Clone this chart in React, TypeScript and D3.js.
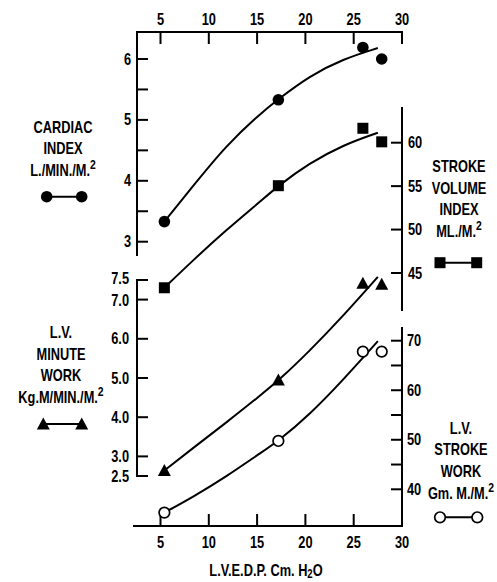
import React from "react";
import * as d3 from "d3";

// ---- data ----
const edpTicks = [5, 10, 15, 20, 25, 30];
const ciTicks = [3, 4, 5, 6];
const ciMinorTicks = [3.5, 4.5, 5.5];
const sviTicks = [45, 50, 55, 60];
const lvmwTicks = [2.5, 3, 4, 5, 6, 7, 7.5];
const lvmwTickLabels = ["2.5", "3.0", "4.0", "5.0", "6.0", "7.0", "7.5"];
const lvswTicks = [40, 50, 60, 70];
const lvswMinorTicks = [45, 55, 65];

const edp = [5.4, 17.2, 25.95, 27.9];
const cardiacIndex = [3.33, 5.33, 6.19, 6.0];
const strokeVolumeIndex = [43.3, 55.05, 61.66, 60.1];
const lvMinuteWork = [2.64, 4.95, 7.42, 7.39];
const lvStrokeWork = [35.3, 49.76, 67.8, 67.8];

// fitted curves
const fitEdp = [5.4, 8.4, 11.8, 15.3, 17.2, 20.4, 23.9, 27.5];
const ciFit = [3.33, 3.92, 4.58, 5.1, 5.34, 5.72, 6.0, 6.18];
const sviFit = [43.3, 46.5, 49.95, 53.2, 55.05, 57.63, 59.74, 61.15];
const lvmwFit = [2.64, 3.22, 3.86, 4.55, 4.93, 5.68, 6.58, 7.58];
const lvswFit = [35.3, 38.5, 42.55, 47.27, 49.76, 55.0, 62.08, 69.9];

const FONT = "'Liberation Sans', Arial, sans-serif";
const SX = 0.8;

const x = d3.scaleLinear().domain([5, 30]).range([160.5, 402]);
const yCI = d3.scaleLinear().domain([3, 6]).range([241.7, 59]);
const ySVI = d3.scaleLinear().domain([45, 60]).range([273, 142.7]);
const yMW = d3.scaleLinear().domain([2.5, 7.5]).range([476, 280]);
const ySW = d3.scaleLinear().domain([40, 70]).range([489.3, 340.7]);

const LEFT_X = 137;
const RIGHT_X = 402;
const TOP_Y = 32;
const BOTTOM_Y = 526;
const TICK = 10;
const SW = 2;

function fitPath(ys: number[], yScale: d3.ScaleLinear<number, number>) {
  const line = d3
    .line<number>()
    .x((_, i) => x(fitEdp[i]))
    .y((d) => yScale(d))
    .curve(d3.curveBasis);
  return line(ys) || "";
}

const tri = (cx: number, cy: number, s = 6.5) =>
  `M${cx},${cy - s} L${cx + s},${cy + s * 0.85} L${cx - s},${cy + s * 0.85} Z`;

function Marker({ kind, cx, cy }: { kind: string; cx: number; cy: number }) {
  if (kind === "dot") return <circle cx={cx} cy={cy} r={5.8} fill="#000" />;
  if (kind === "square") return <rect x={cx - 5.5} y={cy - 5.5} width={11} height={11} fill="#000" />;
  if (kind === "tri") return <path d={tri(cx, cy)} fill="#000" />;
  return <circle cx={cx} cy={cy} r={5.3} fill="#fff" stroke="#000" strokeWidth={1.7} />;
}

function Legend({ kind, x1, x2, y }: { kind: string; x1: number; x2: number; y: number }) {
  return (
    <g>
      <line x1={x1} x2={x2} y1={y} y2={y} stroke="#000" strokeWidth={SW} />
      <Marker kind={kind} cx={x1} cy={y} />
      <Marker kind={kind} cx={x2} cy={y} />
    </g>
  );
}

function T({
  x: tx,
  y: ty,
  anchor = "middle",
  size = 16,
  children,
}: {
  x: number;
  y: number;
  anchor?: string;
  size?: number;
  children: React.ReactNode;
}) {
  return (
    <text
      transform={`translate(${tx},${ty}) scale(${SX},1)`}
      textAnchor={anchor}
      dominantBaseline="central"
      fontFamily={FONT}
      fontWeight="bold"
      fontSize={size}
      fill="#000"
    >
      {children}
    </text>
  );
}

function Block({ cx, y0, lines, sup }: { cx: number; y0: number; lines: string[]; sup: string }) {
  const lh = 21.6;
  return (
    <g>
      {lines.map((t, i) => {
        const last = i === lines.length - 1;
        return (
          <T key={i} x={cx} y={y0 + i * lh}>
            {t}
            {last && sup ? (
              <tspan fontSize={13} dy={-7}>
                {sup}
              </tspan>
            ) : null}
          </T>
        );
      })}
    </g>
  );
}

export default function App() {
  const series = [
    { kind: "dot", ys: cardiacIndex, fit: ciFit, s: yCI },
    { kind: "square", ys: strokeVolumeIndex, fit: sviFit, s: ySVI },
    { kind: "tri", ys: lvMinuteWork, fit: lvmwFit, s: yMW },
    { kind: "open", ys: lvStrokeWork, fit: lvswFit, s: ySW },
  ];
  return (
    <svg
      width={497}
      height={582}
      style={{ position: "absolute", left: 0, top: 0, background: "#fff" }}
    >
      <rect width={497} height={582} fill="#fff" />
      <g stroke="#000" strokeWidth={SW} fill="none" strokeLinecap="square">
        {/* top axis */}
        <line x1={LEFT_X} x2={RIGHT_X} y1={TOP_Y} y2={TOP_Y} />
        {edpTicks.map((t) => (
          <line key={"tt" + t} x1={x(t)} x2={x(t)} y1={TOP_Y} y2={TOP_Y + 11} />
        ))}
        {/* bottom axis */}
        <line x1={134} x2={RIGHT_X} y1={BOTTOM_Y} y2={BOTTOM_Y} />
        {edpTicks.map((t) => (
          <line key={"bt" + t} x1={x(t)} x2={x(t)} y1={BOTTOM_Y} y2={BOTTOM_Y - 11} />
        ))}
        {/* cardiac index axis */}
        <line x1={LEFT_X} x2={LEFT_X} y1={TOP_Y} y2={255} />
        {[...ciTicks, ...ciMinorTicks].map((t) => (
          <line key={"ci" + t} x1={LEFT_X} x2={LEFT_X + TICK} y1={yCI(t)} y2={yCI(t)} />
        ))}
        {/* minute work axis */}
        <line x1={LEFT_X} x2={LEFT_X} y1={yMW(7.5)} y2={yMW(2.5)} />
        {lvmwTicks.map((t) => (
          <line key={"mw" + t} x1={LEFT_X} x2={LEFT_X + TICK} y1={yMW(t)} y2={yMW(t)} />
        ))}
        {/* stroke volume index axis */}
        <line x1={RIGHT_X} x2={RIGHT_X} y1={108} y2={310} />
        {sviTicks.map((t) => (
          <line key={"sv" + t} x1={RIGHT_X - TICK} x2={RIGHT_X} y1={ySVI(t)} y2={ySVI(t)} />
        ))}
        {/* stroke work axis */}
        <line x1={RIGHT_X} x2={RIGHT_X} y1={328} y2={BOTTOM_Y} />
        {[...lvswTicks, ...lvswMinorTicks].map((t) => (
          <line key={"sw" + t} x1={RIGHT_X - TICK} x2={RIGHT_X} y1={ySW(t)} y2={ySW(t)} />
        ))}
      </g>

      {edpTicks.map((t) => (
        <T key={"tl" + t} x={x(t)} y={19}>
          {t}
        </T>
      ))}
      {edpTicks.map((t) => (
        <T key={"bl" + t} x={x(t)} y={542}>
          {t}
        </T>
      ))}
      {ciTicks.map((t) => (
        <T key={"cil" + t} x={131} y={yCI(t)} anchor="end">
          {t}
        </T>
      ))}
      {lvmwTicks.map((t, i) => (
        <T key={"mwl" + t} x={129} y={yMW(t) + (t === 7.5 ? -2 : t === 7 ? 1 : 0)} anchor="end">
          {lvmwTickLabels[i]}
        </T>
      ))}
      {sviTicks.map((t) => (
        <T key={"svl" + t} x={408} y={ySVI(t)} anchor="start">
          {t}
        </T>
      ))}
      {lvswTicks.map((t) => (
        <T key={"swl" + t} x={407} y={ySW(t)} anchor="start">
          {t}
        </T>
      ))}
      <T x={266} y={570} size={16}>
        L.V.E.D.P. Cm. H
        <tspan fontSize={12} dy={4}>
          2
        </tspan>
        <tspan dy={-4}>O</tspan>
      </T>

      {series.map((se) => (
        <path
          key={"fit" + se.kind}
          d={fitPath(se.fit, se.s)}
          fill="none"
          stroke="#000"
          strokeWidth={SW}
        />
      ))}
      {series.map((se) =>
        se.ys.map((v, i) => (
          <Marker key={se.kind + i} kind={se.kind} cx={x(edp[i])} cy={se.s(v)} />
        ))
      )}

      <Block cx={63} y0={127} lines={["CARDIAC", "INDEX", "L./MIN./M."]} sup="2" />
      <Legend kind="dot" x1={46.7} x2={81.7} y={196.7} />

      <Block cx={459} y0={166.7} lines={["STROKE", "VOLUME", "INDEX", "ML./M."]} sup="2" />
      <Legend kind="square" x1={440} x2={476.7} y={262.7} />

      <Block cx={61} y0={332.7} lines={["L.V.", "MINUTE", "WORK", "Kg.M/MIN./M."]} sup="2" />
      <Legend kind="tri" x1={43.3} x2={81.7} y={424} />

      <Block cx={461} y0={428.3} lines={["L.V.", "STROKE", "WORK", "Gm. M./M."]} sup="2" />
      <Legend kind="open" x1={440} x2={477.3} y={517.3} />
    </svg>
  );
}
